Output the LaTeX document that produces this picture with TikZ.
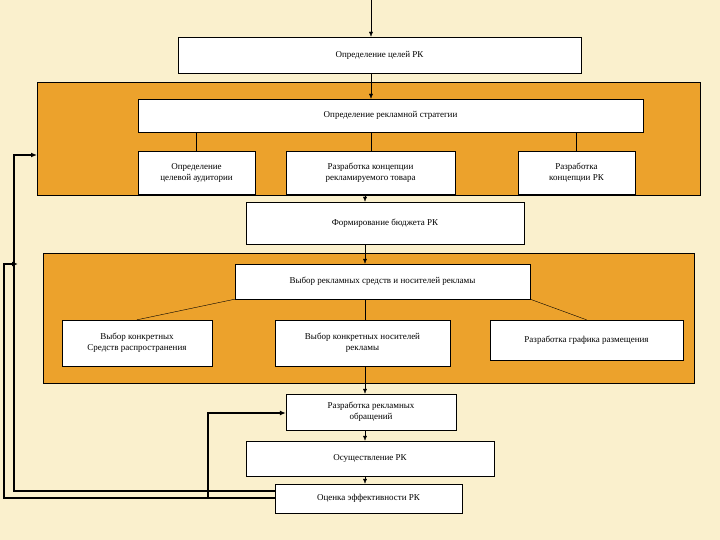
\documentclass[tikz,border=0pt]{standalone}
\usepackage{fontspec}
\setmainfont{Liberation Serif}
\usetikzlibrary{arrows.meta, positioning}
\definecolor{bgbeige}{RGB}{250,240,205}
\definecolor{boxorange}{RGB}{236,162,44}

\begin{document}
\begin{tikzpicture}[
		x=1pt, y=-1pt,
		box/.style={draw, fill=white, align=center, font=\fontsize{9}{11}\selectfont, inner sep=1pt},
		panel/.style={draw, fill=boxorange},
		arrow/.style={-{Latex[length=5pt,width=4pt]}},
		feedback/.style={-{Latex[length=6pt,width=5pt]}, line width=1.2pt}
	]
		\useasboundingbox (0,0) rectangle (720,540);
		\fill[bgbeige] (0,0) rectangle (720,540);

		% Panels
		\draw[panel] (37,82) rectangle (700,195);
		\draw[panel] (43,253) rectangle (694,383);

		% Nodes
		\coordinate (top) at (371,0);
		\node[box, minimum width=403, minimum height=36] (goals) at (379.5,55) {Определение целей РК};
		\node[box, minimum width=505, minimum height=33] (strategy) at (390.5,115.5) {Определение рекламной стратегии};
		\node[box, minimum width=117, minimum height=43] (audience) at (196.5,172.5) {Определение\\целевой аудитории};
		\node[box, minimum width=169, minimum height=43] (product) at (370.5,172.5) {Разработка концепции\\рекламируемого товара};
		\node[box, minimum width=117, minimum height=43] (concept) at (576.5,172.5) {Разработка\\концепции РК};
		\node[box, minimum width=278, minimum height=42] (budget) at (385,223) {Формирование бюджета РК};
		\node[box, minimum width=295, minimum height=35] (media) at (382.5,281.5) {Выбор рекламных средств и носителей рекламы};
		\node[box, minimum width=150, minimum height=46] (means) at (137,343) {Выбор конкретных\\Средств распространения};
		\node[box, minimum width=175, minimum height=46] (carriers) at (362.5,343) {Выбор конкретных носителей\\рекламы};
		\node[box, minimum width=193, minimum height=40] (schedule) at (586.5,340) {Разработка графика размещения};
		\node[box, minimum width=170, minimum height=36] (messages) at (371,412) {Разработка рекламных\\обращений};
		\node[box, minimum width=248, minimum height=35] (launch) at (370,458.5) {Осуществление РК};
		\node[box, minimum width=187, minimum height=29] (rating) at (368.5,498.5) {Оценка эффективности РК};

		% Arrows
		\draw[arrow] (top) -- (goals.north -| top);
		\draw[arrow] (goals.south -| top) -- (strategy.north -| top);
		\draw (strategy.south -| audience) -- (audience);
		\draw (strategy.south -| top) -- (product.north -| top);
		\draw (strategy.south -| concept) -- (concept);
		\draw[arrow] (product.south -| 365,0) -- (budget.north -| 365,0);
		\draw[arrow] (budget.south -| 365,0) -- (media.north -| 365,0);
		\draw (media.south west) -- (means.north);
		\draw (media.south -| 365,0) -- (carriers.north -| 365,0);
		\draw (media.south east) -- (schedule.north);
		\draw[arrow] (carriers.south -| 365,0) -- (messages.north -| 365,0);
		\draw[arrow] (messages.south -| 365,0) -- (launch.north -| 365,0);
		\draw[arrow] (launch.south -| 365,0) -- (rating.north -| 365,0);

		% Feedback
		\draw[feedback] (rating.west |- 0,491) -| (14,155) -- (37,155);
		\draw[feedback] (rating.west |- 0,498) -| (4,264) -- (18,264);
		\draw[feedback] (208,498) |- (messages.west |- 0,413);

	\end{tikzpicture}
\end{document}
